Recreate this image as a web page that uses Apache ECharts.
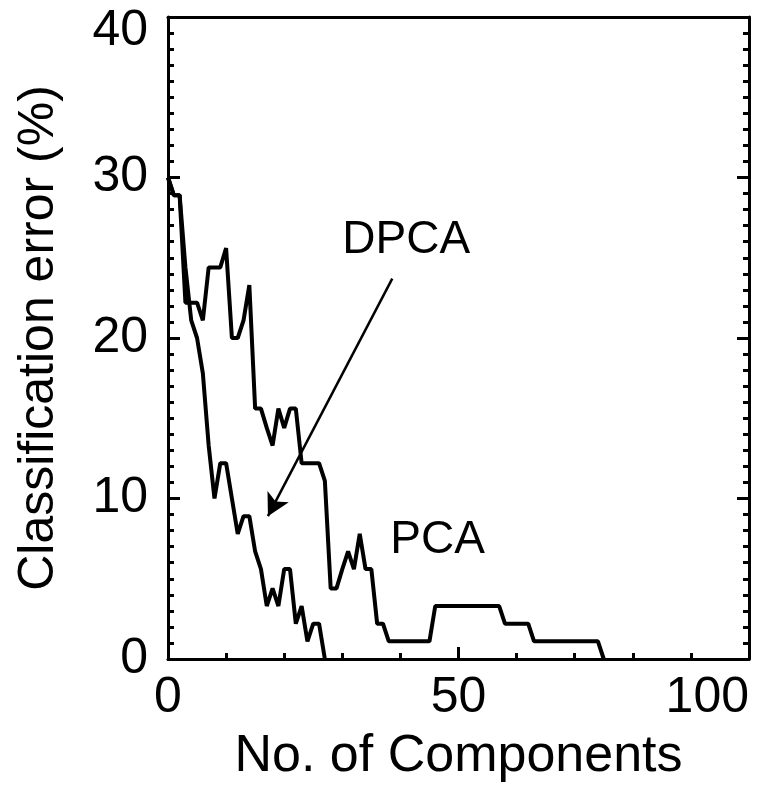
<!DOCTYPE html>
<html>
<head>
<meta charset="utf-8">
<script src="https://cdn.jsdelivr.net/npm/echarts@6/dist/echarts.min.js"></script>
<style>
  html, body { margin: 0; padding: 0; background: #fff; }
  #chart { width: 778px; height: 787px; }
</style>
</head>
<body>
<div id="chart"></div>
<script>
// number of components (x) and classification error in % (y)
const dpcaX = [0, 1, 2, 3, 4, 5, 6, 7, 8, 9, 10, 11, 12, 13, 14, 15, 16, 17, 18, 19, 20, 21, 22, 23, 24, 25, 26, 27]
const dpcaY = [30, 28.9, 28.9, 24.4, 21.1, 20.0, 17.8, 13.3, 10.0, 12.2, 12.2, 10.0, 7.8, 8.9, 8.9, 6.7, 5.6, 3.3, 4.4, 3.3, 5.6, 5.6, 2.2, 3.3, 1.1, 2.2, 2.2, 0]

const pcaX = [0, 1, 2, 3, 4, 5, 6, 7, 8, 9, 10, 11, 12, 13, 14, 15, 16, 17, 18, 19, 20, 21, 22, 23, 24, 25, 26, 27, 28, 29, 30, 31, 32, 33, 34, 35, 36, 37, 38, 45, 46, 57, 58, 62, 63, 74, 75]
const pcaY = [30, 28.9, 28.9, 22.2, 22.2, 22.2, 21.1, 24.4, 24.4, 24.4, 25.6, 20.0, 20.0, 21.1, 23.3, 15.6, 15.6, 14.4, 13.3, 15.6, 14.4, 15.6, 15.6, 12.2, 12.2, 12.2, 12.2, 11.1, 4.4, 4.4, 5.6, 6.7, 5.6, 7.8, 5.6, 5.6, 2.2, 2.2, 1.1, 1.1, 3.3, 3.3, 2.2, 2.2, 1.1, 1.1, 0]

const xTicks = [0, 50, 100]
const yTicks = [0, 10, 20, 30, 40]

// annotation: arrow from [x, y] to [x, y] and the two labels
const arrowFrom = [38.6, 23.7]
const arrowTo = [17.2, 8.9]
const dpcaLabelAt = [41, 26.1]
const pcaLabelAt = [46.4, 7.4]

const FONT = 'Liberation Sans, Arial, Helvetica, sans-serif'
const pairs = (xs, ys) => xs.map((x, i) => [x, ys[i]])

const chart = echarts.init(document.getElementById('chart'))

const tickStyle = { color: '#000', width: 3 }

function textMark (text, at) {
  return {
    symbol: 'circle',
    symbolSize: 1,
    silent: true,
    itemStyle: { color: 'rgba(0,0,0,0)' },
    label: { show: true, position: 'inside', formatter: text, fontFamily: FONT, fontSize: 46, color: '#000' },
    data: [{ coord: at }]
  }
}

chart.setOption({
  animation: false,
  backgroundColor: '#fff',
  grid: { left: 168, top: 17, right: 29, bottom: 128, outerBoundsMode: 'none', containLabel: false },
  xAxis: [
    {
      type: 'value',
      min: xTicks[0],
      max: xTicks[xTicks.length - 1],
      interval: 50,
      name: 'No. of Components',
      nameLocation: 'middle',
      nameGap: 72,
      nameMoveOverlap: false,
      nameTextStyle: { fontFamily: FONT, fontSize: 52, color: '#000' },
      axisLine: { show: true, onZero: false, lineStyle: tickStyle },
      axisTick: { show: true, inside: true, length: 12, lineStyle: tickStyle },
      minorTick: { show: true, splitNumber: 5, length: 6, lineStyle: tickStyle },
      axisLabel: { fontFamily: FONT, fontSize: 50, color: '#000', margin: 14, alignMaxLabel: 'right' },
      splitLine: { show: false }
    },
    {
      type: 'value',
      position: 'top',
      min: 0,
      max: 100,
      axisLine: { show: true, onZero: false, lineStyle: tickStyle },
      axisTick: { show: false },
      axisLabel: { show: false },
      splitLine: { show: false }
    }
  ],
  yAxis: [
    {
      type: 'value',
      min: yTicks[0],
      max: yTicks[yTicks.length - 1],
      interval: 10,
      name: 'Classification error (%)',
      nameLocation: 'middle',
      nameGap: 104,
      nameMoveOverlap: false,
      nameTextStyle: { fontFamily: FONT, fontSize: 50, color: '#000' },
      axisLine: { show: true, onZero: false, lineStyle: tickStyle },
      axisTick: { show: true, length: -12, lineStyle: tickStyle },
      minorTick: { show: true, splitNumber: 10, length: -6, lineStyle: tickStyle },
      axisLabel: {
        fontFamily: FONT,
        fontSize: 50,
        color: '#000',
        margin: 20,
        // the top label sits a little below its tick, inside the picture
        formatter: v => (v === yTicks[yTicks.length - 1] ? '{top|' + v + '}' : String(v)),
        rich: { top: { fontFamily: FONT, fontSize: 50, color: '#000', padding: [28, 0, 0, 0] } }
      },
      splitLine: { show: false }
    },
    {
      type: 'value',
      position: 'right',
      min: 0,
      max: 40,
      interval: 10,
      axisLine: { show: true, onZero: false, lineStyle: tickStyle },
      axisTick: { show: true, inside: true, length: 12, lineStyle: tickStyle },
      minorTick: { show: true, splitNumber: 10, length: 6, lineStyle: tickStyle },
      axisLabel: { show: false },
      splitLine: { show: false }
    }
  ],
  series: [
    {
      name: 'PCA',
      type: 'line',
      xAxisIndex: 1,
      yAxisIndex: 1,
      data: pairs(pcaX, pcaY),
      symbol: 'none',
      lineStyle: { color: '#000', width: 4 },
      markPoint: textMark('PCA', pcaLabelAt)
    },
    {
      name: 'DPCA',
      type: 'line',
      data: pairs(dpcaX, dpcaY),
      symbol: 'none',
      lineStyle: { color: '#000', width: 4 },
      markPoint: textMark('DPCA', dpcaLabelAt),
      markLine: {
        silent: true,
        symbol: ['none', 'arrow'],
        symbolSize: [18, 22],
        label: { show: false },
        lineStyle: { color: '#000', width: 2.5, type: 'solid' },
        data: [[{ coord: arrowFrom }, { coord: arrowTo }]]
      }
    }
  ]
})
</script>
</body>
</html>
